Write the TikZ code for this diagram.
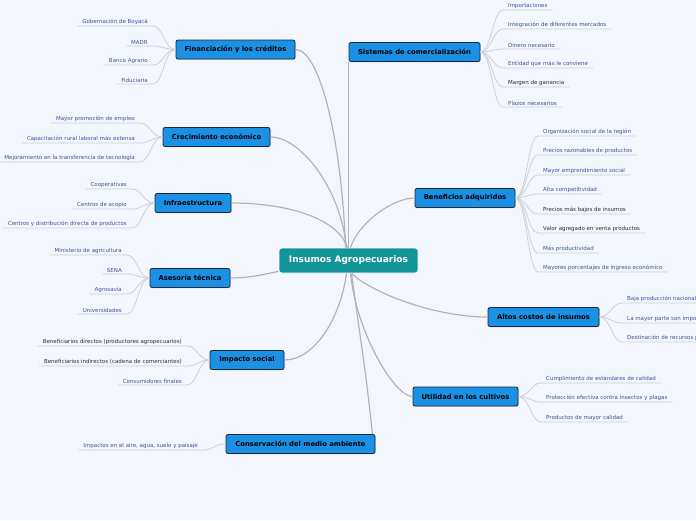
\documentclass[tikz,border=0pt]{standalone}
\usepackage{fontspec}
\setmainfont{DejaVu Sans}
\usepackage{xcolor}
\usepackage{tikz}
\usetikzlibrary{positioning,shadows}

\definecolor{bgc}{RGB}{243,246,253}
\definecolor{topicblue}{RGB}{27,145,230}
\definecolor{topicedge}{RGB}{25,40,60}
\definecolor{rootteal}{RGB}{19,148,152}
\definecolor{leafblue}{RGB}{62,84,150}
\definecolor{leafdark}{RGB}{45,45,50}
\definecolor{mainline}{RGB}{178,180,186}
\definecolor{subline}{RGB}{206,209,216}

\begin{document}
\begin{tikzpicture}[
    x=1pt,y=-1pt,
    root/.style={fill=rootteal,draw=white,line width=0.6pt,rounded corners=3pt,text=white,
      font=\fontsize{9}{10}\selectfont\bfseries,minimum width=139pt,minimum height=25pt},
    topic/.style={fill=topicblue,draw=topicedge,line width=0.8pt,rounded corners=2pt,
      font=\fontsize{6.8}{8}\selectfont\bfseries,minimum height=19pt,inner xsep=5pt,
      drop shadow={opacity=0.25,shadow xshift=0.8pt,shadow yshift=-0.8pt}},
    leafL/.style={anchor=south east,inner xsep=5pt,inner ysep=1.6pt,text=leafblue,font=\fontsize{5.5}{6.5}\selectfont},
    leafR/.style={anchor=south west,inner xsep=5pt,inner ysep=1.6pt,text=leafblue,font=\fontsize{5.5}{6.5}\selectfont},
    dark/.style={text=leafdark},
    trunk/.style={draw=mainline,line width=1.2pt},
    twig/.style={draw=subline,line width=0.8pt}
  ]
    \fill[bgc] (0,0) rectangle (696,520);
    \useasboundingbox (0,0) rectangle (696,520);
    \clip (0,0) rectangle (696,520);

    % centre and main topics
    \node[root] (cen) at (348.5,260.5) {Insumos Agropecuarios};

    \node[topic,minimum width=119pt] (fin) at (235.5,49.5) {Financiación y los créditos};
    \node[topic,minimum width=107pt] (cre) at (216.5,137) {Crecimiento económico};
    \node[topic,minimum width=76pt] (inf) at (193,203) {Infraestructura};
    \node[topic,minimum width=80pt] (ase) at (190,278) {Asesoría técnica};
    \node[topic,minimum width=74pt] (imp) at (247,360) {Impacto social};
    \node[topic,minimum width=149pt] (con) at (300.5,444) {Conservación del medio ambiente};
    \node[topic,minimum width=131pt] (sis) at (414.5,52) {Sistemas de comercialización};
    \node[topic,minimum width=100pt] (ben) at (465,198) {Beneficios adquiridos};
    \node[topic,minimum width=111pt] (alt) at (543.5,317) {Altos costos de insumos};
    \node[topic,minimum width=105pt] (uti) at (465.5,396.5) {Utilidad en los cultivos};

    % trunk lines
    \draw[trunk] (fin.east) .. controls +(24,0) and +(-4,-110) .. ([xshift=-3pt]cen.north);
    \draw[trunk] (cen.north) -- (cen.north |- sis.south);
    \draw[trunk] (cre.east) .. controls +(30,0) and +(-6,-60) .. ([xshift=-2pt]cen.north);
    \draw[trunk] (inf.east) .. controls +(55,0) and +(-10,-30) .. ([xshift=-1pt]cen.north);
    \draw[trunk] (ase.east) .. controls +(20,0) and +(-15,3) .. ([yshift=2pt]cen.south west);
    \draw[trunk] (imp.east) .. controls +(30,0) and +(-6,45) .. ([xshift=-2pt]cen.south);
    \draw[trunk] ([xshift=3pt]cen.south) .. controls +(8,60) and +(-6,-60) .. ([xshift=-3pt]con.north east);
    \draw[trunk] (ben.west) .. controls +(-22,0) and +(8,-25) .. ([xshift=2pt]cen.north);
    \draw[trunk] (alt.west) .. controls +(-55,0) and +(18,18) .. ([xshift=3pt]cen.south);
    \draw[trunk] (uti.west) .. controls +(-18,0) and +(6,60) .. ([xshift=2pt]cen.south);

    % left leaves
    \node[leafL] (fin1) at (153,26) {Gobernación de Boyacá};
    \node[leafL] (fin2) at (153,46) {MADR};
    \node[leafL] (fin3) at (153,65) {Banco Agrario};
    \node[leafL] (fin4) at (153,84) {Fiduciaria};
    \foreach \n in {fin1,fin2,fin3,fin4}
      \draw[twig] (fin.west) .. controls +(-11,0) and +(10,0) .. (\n.south east) -- (\n.south west);

    \node[leafL] (cre1) at (140,123) {Mayor promoción de empleo};
    \node[leafL] (cre2) at (140,143) {Capacitación rural laboral más extensa};
    \node[leafL] (cre3) at (140,162) {Mejoramiento en la transferencia de tecnología};
    \foreach \n in {cre1,cre2,cre3}
      \draw[twig] (cre.west) .. controls +(-11,0) and +(10,0) .. (\n.south east) -- (\n.south west);

    \node[leafL] (inf1) at (132,189) {Cooperativas};
    \node[leafL] (inf2) at (132,209) {Centros de acopio};
    \node[leafL] (inf3) at (132,228) {Centros y distribución directa de productos};
    \foreach \n in {inf1,inf2,inf3}
      \draw[twig] (inf.west) .. controls +(-11,0) and +(10,0) .. (\n.south east) -- (\n.south west);

    \node[leafL] (ase1) at (127,255) {Ministerio de agricultura};
    \node[leafL] (ase2) at (127,274) {SENA};
    \node[leafL] (ase3) at (127,294) {Agrosavia};
    \node[leafL] (ase4) at (127,314) {Universidades};
    \foreach \n in {ase1,ase2,ase3,ase4}
      \draw[twig] (ase.west) .. controls +(-11,0) and +(10,0) .. (\n.south east) -- (\n.south west);

    \node[leafL,dark] (imp1) at (187,346) {Beneficiarios directos (productores agropecuarios)};
    \node[leafL,dark] (imp2) at (187,366) {Beneficiarios indirectos (cadena de comerciantes)};
    \node[leafL] (imp3) at (187,385) {Consumidores finales};
    \foreach \n in {imp1,imp2,imp3}
      \draw[twig] (imp.west) .. controls +(-11,0) and +(10,0) .. (\n.south east) -- (\n.south west);

    \node[leafL] (con1) at (203,450) {Impactos en el aire, agua, suelo y paisaje};
    \draw[twig] (con.west) .. controls +(-11,0) and +(10,0) .. (con1.south east) -- (con1.south west);

    % right leaves
    \node[leafR] (sis1) at (503,10) {Importaciones};
    \node[leafR] (sis2) at (503,29) {Integración de diferentes mercados};
    \node[leafR] (sis3) at (503,49) {Dinero necesario};
    \node[leafR] (sis4) at (503,68) {Entidad que más le conviene};
    \node[leafR,dark] (sis5) at (503,87) {Margen de ganancia};
    \node[leafR] (sis6) at (503,107) {Plazos necesarios};
    \foreach \n in {sis1,sis2,sis3,sis4,sis5,sis6}
      \draw[twig] (sis.east) .. controls +(11,0) and +(-10,0) .. (\n.south west) -- (\n.south east);

    \node[leafR] (ben1) at (538,136) {Organización social de la región};
    \node[leafR] (ben2) at (538,155) {Precios razonables de productos};
    \node[leafR] (ben3) at (538,175) {Mayor emprendimiento social};
    \node[leafR] (ben4) at (538,194) {Alta competitividad};
    \node[leafR,dark] (ben5) at (538,214) {Precios más bajos de insumos};
    \node[leafR,dark] (ben6) at (538,233) {Valor agregado en venta productos};
    \node[leafR] (ben7) at (538,253) {Más productividad};
    \node[leafR] (ben8) at (538,272) {Mayores porcentajes de ingreso económico};
    \foreach \n in {ben1,ben2,ben3,ben4,ben5,ben6,ben7,ben8}
      \draw[twig] (ben.east) .. controls +(11,0) and +(-10,0) .. (\n.south west) -- (\n.south east);

    \node[leafR] (alt1) at (622,303) {Baja producción nacional};
    \node[leafR] (alt2) at (622,323) {La mayor parte son impo};
    \node[leafR] (alt3) at (622,342) {Destinación de recursos p};
    \foreach \n in {alt1,alt2,alt3}
      \draw[twig] (alt.east) .. controls +(11,0) and +(-10,0) .. (\n.south west) -- (\n.south east);

    \node[leafR] (uti1) at (541,383) {Cumplimiento de estándares de calidad};
    \node[leafR] (uti2) at (541,402) {Protección efectiva contra insectos y plagas};
    \node[leafR] (uti3) at (541,422) {Productos de mayor calidad};
    \foreach \n in {uti1,uti2,uti3}
      \draw[twig] (uti.east) .. controls +(11,0) and +(-10,0) .. (\n.south west) -- (\n.south east);
  \end{tikzpicture}
\end{document}
